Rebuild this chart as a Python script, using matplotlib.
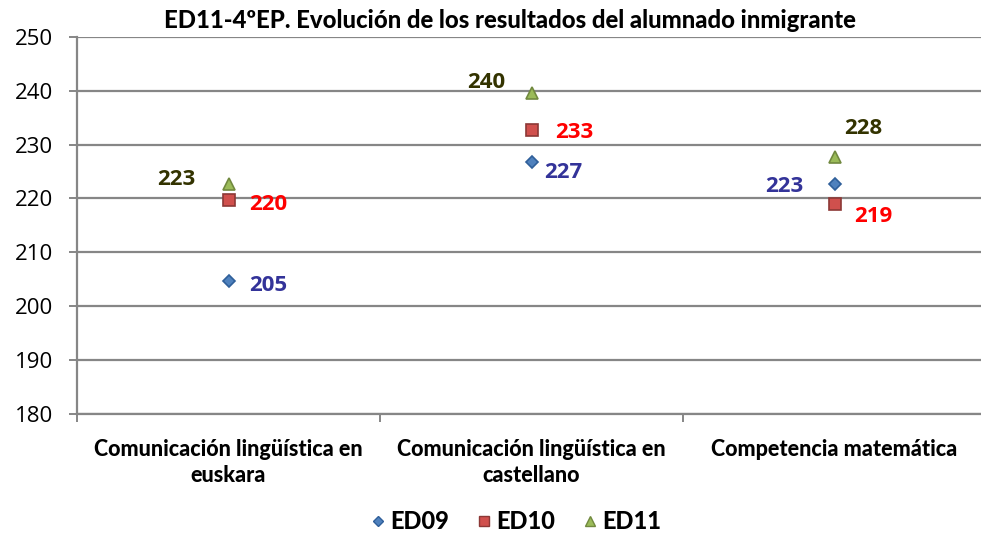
import matplotlib.pyplot as plt
from matplotlib.lines import Line2D

categories = ["Comunicación lingüística en\neuskara",
              "Comunicación lingüística en\ncastellano",
              "Competencia matemática"]
series = ["ED09", "ED10", "ED11"]
ed09 = [204.6, 226.7, 222.6]
ed10 = [219.7, 232.6, 218.9]
ed11 = [222.6, 239.6, 227.6]
yticks = [180, 190, 200, 210, 220, 230, 240, 250]

# label offsets in pixels for each point (dx, dy), y up
off09 = [(40, -4), (32, -10), (-50, -2)]
off10 = [(40, -4), (43, -2), (39, -12)]
off11 = [(-52, 5), (-45, 10), (29, 29)]

styles = {
    "ED09": dict(marker="D", ms=6.5, mfc="#4F81BD", mec="#2F5F9A", lab="#333399"),
    "ED10": dict(marker="s", ms=9, mfc="#D0504D", mec="#8C3836", lab="#FF0000"),
    "ED11": dict(marker="^", ms=9, mfc="#9BBB59", mec="#71893F", lab="#333300"),
}

grid_c = "#868686"
fig = plt.figure(figsize=(9.81, 5.36), dpi=100)
ax = fig.add_axes([0.0785, 0.2276, 0.9266, 0.7039])

x = list(range(len(categories)))
for name, vals, offs in zip(series, [ed09, ed10, ed11], [off09, off10, off11]):
    st = styles[name]
    ax.plot(x, vals, linestyle="none", marker=st["marker"], ms=st["ms"],
            mfc=st["mfc"], mec=st["mec"], mew=1.2, zorder=3)
    for xi, v, (dx, dy) in zip(x, vals, offs):
        ax.annotate(f"{v:.0f}", (xi, v), xytext=(dx, dy), textcoords="offset pixels",
                    ha="center", va="center", color=st["lab"], fontsize=16,
                    fontweight="bold", family="Open Sans")

ax.set_xlim(-0.5, 2.5)
ax.set_ylim(180, 250)
ax.set_yticks(yticks)
ax.yaxis.grid(True, color=grid_c, lw=1.6)
ax.set_axisbelow(True)
for s in ["top", "right"]:
    ax.spines[s].set_visible(False)
for s in ["left", "bottom"]:
    ax.spines[s].set_color(grid_c)
    ax.spines[s].set_linewidth(1.6)

ax.set_xticks([-0.5, 0.5, 1.5, 2.5])
ax.set_xticklabels([])
ax.set_xticks(x, minor=True)
ax.set_xticklabels(categories, minor=True, fontsize=15.5, fontweight=900,
                   family="Lato", linespacing=1.3)
ax.tick_params(axis="x", which="major", length=6, width=1.4, color=grid_c)
ax.tick_params(axis="x", which="minor", length=0, pad=18)
ax.tick_params(axis="y", length=6, width=1.4, color=grid_c, pad=11, labelsize=16)
for t in ax.get_yticklabels():
    t.set_family("Open Sans")

fig.text(0.52, 0.962, "ED11-4ºEP. Evolución de los resultados del alumnado inmigrante",
         ha="center", va="center", fontsize=17.2, fontweight=900, family="Lato")

handles = [Line2D([], [], linestyle="none", marker=styles[n]["marker"],
                  ms=styles[n]["ms"] * 0.75, mfc=styles[n]["mfc"], mec=styles[n]["mec"])
           for n in series]
fig.legend(handles, series, loc="center", bbox_to_anchor=(0.525, 0.027), ncol=3,
           frameon=False, handletextpad=0.1, columnspacing=1.1, handlelength=0.8,
           prop=dict(family="Lato", weight=900, size=17))

fig.savefig("out.png", dpi=100)
